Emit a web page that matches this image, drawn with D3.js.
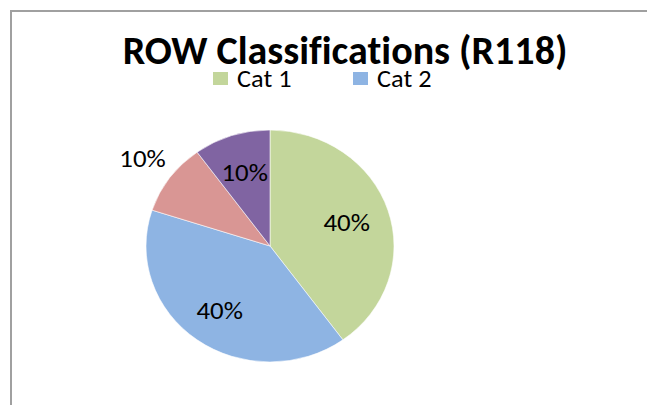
<!DOCTYPE html>
<html>
<head>
<meta charset="utf-8">
<script src="https://cdn.jsdelivr.net/npm/d3@7"></script>
<style>
  body { margin: 0; background: #fff; }
  svg { display: block; }
  text { font-family: Carlito, Calibri, Lato, "Open Sans", sans-serif; fill: #000; font-variant-ligatures: none; }
</style>
</head>
<body>
<div id="chart"></div>
<script>
var categories = ['Cat 1', 'Cat 2', 'Cat 3', 'Cat 4'];
var values = [40, 40, 10, 10];
var colors = ['#c3d69b', '#8eb4e3', '#d99694', '#8064a2'];
var legendShown = ['Cat 1', 'Cat 2'];
var title = 'ROW Classifications (R118)';

var width = 647, height = 405;
// the source picture is slightly wider than tall, so the pie is an ellipse
var cx = 270, cy = 246, rx = 124, ry = 116;
var stretch = 1.12;

var svg = d3.select('#chart').append('svg')
  .attr('width', width)
  .attr('height', height);

// chart area border, runs off the bottom/right like the screenshot
svg.append('rect')
  .attr('x', 11).attr('y', 11)
  .attr('width', width + 20).attr('height', height + 20)
  .attr('fill', '#fff')
  .attr('stroke', '#a0a0a0')
  .attr('stroke-width', 2);

svg.append('text')
  .attr('x', 345).attr('y', 64)
  .attr('text-anchor', 'middle')
  .attr('font-size', 40)
  .attr('font-weight', 'bold')
  .text(title);

var color = d3.scaleOrdinal().domain(categories).range(colors);

var legend = svg.append('g').attr('transform', 'translate(213,72)');
var item = legend.selectAll('g').data(legendShown).enter().append('g')
  .attr('transform', function(d, i) { return 'translate(' + (i * 140) + ',0)'; });
item.append('rect')
  .attr('width', 15).attr('height', 13)
  .attr('fill', function(d) { return color(d); });
item.append('text')
  .attr('transform', 'translate(24,15) scale(' + stretch + ',1)')
  .attr('font-size', 23.5)
  .text(function(d) { return d; });

var pie = d3.pie().sort(null).value(function(d) { return d; });
var arcs = pie(values);
var arc = d3.arc().innerRadius(0).outerRadius(rx);

var pieG = svg.append('g')
  .attr('transform', 'translate(' + cx + ',' + cy + ') scale(1,' + (ry / rx) + ')');
pieG.selectAll('path').data(arcs).enter().append('path')
  .attr('d', arc)
  .attr('fill', function(d, i) { return color(categories[i]); })
  .attr('stroke', '#fff')
  .attr('stroke-width', 0.6);

var total = d3.sum(values);
var labelR = [0.65, 0.69, 1.27, 0.66];
var labels = svg.append('g').attr('transform', 'translate(' + cx + ',' + cy + ')');
labels.selectAll('text').data(arcs).enter().append('text')
  .attr('transform', function(d, i) {
    var a = (d.startAngle + d.endAngle) / 2;
    var x = Math.sin(a) * rx * labelR[i];
    var y = -Math.cos(a) * ry * labelR[i];
    return 'translate(' + x + ',' + y + ') scale(' + stretch + ',1)';
  })
  .attr('text-anchor', 'middle')
  .attr('dominant-baseline', 'central')
  .attr('font-size', 24)
  .text(function(d) { return Math.round(d.value / total * 100) + '%'; });
</script>
</body>
</html>
